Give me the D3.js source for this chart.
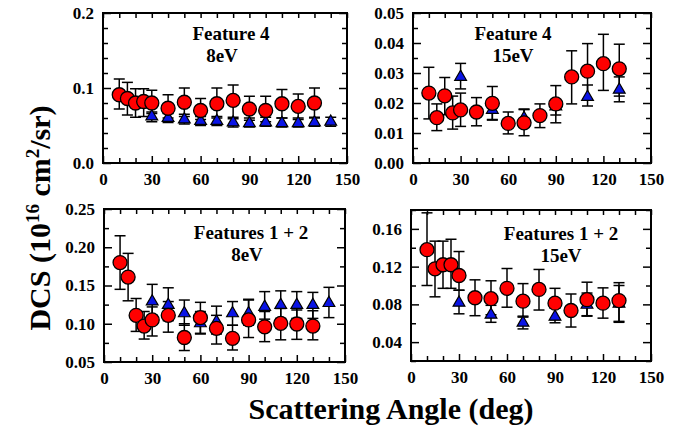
<!DOCTYPE html>
<html>
<head>
<meta charset="utf-8">
<script src="https://cdn.jsdelivr.net/npm/d3@7"></script>
<style>
  body { margin: 0; background: #fff; }
  svg text { font-family: "Liberation Serif", "Times New Roman", serif; font-weight: bold; fill: #000; }
</style>
</head>
<body>
<div id="chart"></div>
<script>
// Scattering angles (deg)
var angRed = [10, 15, 20, 25, 30, 40, 50, 60, 70, 80, 90, 100, 110, 120, 130];
var angBlueA = [30, 40, 50, 60, 70, 80, 90, 100, 110, 120, 130, 140];
var angBlueB = [30, 50, 70, 90, 110, 130];
var angBlueC = [30, 40, 50, 60, 70, 80, 90, 100, 110, 120, 130, 140];
var angBlueD = [30, 50, 70, 90, 110, 130];

// Feature 4, 8eV
var redA = [0.091, 0.086, 0.080, 0.082, 0.080, 0.073, 0.081, 0.070, 0.079, 0.0835, 0.072, 0.070, 0.079, 0.0755, 0.080];
var redAHi = [0.112, 0.1075, 0.099, 0.099, 0.097, 0.091, 0.100, 0.086, 0.100, 0.104, 0.089, 0.089, 0.098, 0.092, 0.100];
var redALo = [0.072, 0.064, 0.061, 0.062, 0.066, 0.060, 0.062, 0.058, 0.060, 0.059, 0.057, 0.055, 0.060, 0.058, 0.060];
var blueA = [0.062, 0.060, 0.058, 0.056, 0.056, 0.054, 0.053, 0.054, 0.053, 0.053, 0.054, 0.055];
var blueAHi = [0.068, 0.066, 0.065, 0.062, 0.062, 0.061, 0.060, 0.061, 0.060, 0.060, 0.061, 0.061];
var blueALo = [0.055, 0.054, 0.052, 0.050, 0.050, 0.048, 0.048, 0.049, 0.048, 0.048, 0.049, 0.049];

// Feature 4, 15eV
var redB = [0.0233, 0.0151, 0.0224, 0.0167, 0.0177, 0.0170, 0.0199, 0.0132, 0.0134, 0.0158, 0.0197, 0.0287, 0.0306, 0.0331, 0.0314];
var redBHi = [0.0319, 0.0197, 0.0285, 0.0223, 0.0233, 0.0218, 0.0255, 0.0170, 0.0180, 0.0197, 0.0258, 0.0374, 0.0398, 0.0429, 0.0396];
var redBLo = [0.0147, 0.0108, 0.0161, 0.0113, 0.0122, 0.0124, 0.0145, 0.0097, 0.0091, 0.0118, 0.0134, 0.0197, 0.0212, 0.0242, 0.0223];
var blueB = [0.0287, 0.0177, 0.0150, 0.0188, 0.0220, 0.0244];
var blueBHi = [0.0332, 0.0190, 0.0178, 0.0206, 0.0260, 0.0287];
var blueBLo = [0.0247, 0.0143, 0.0120, 0.0160, 0.0190, 0.0204];

// Features 1 + 2, 8eV
var redC = [0.180, 0.161, 0.111, 0.097, 0.105, 0.111, 0.082, 0.108, 0.094, 0.081, 0.105, 0.096, 0.1005, 0.0997, 0.097];
var redCHi = [0.215, 0.192, 0.133, 0.116, 0.122, 0.129, 0.100, 0.128, 0.111, 0.098, 0.131, 0.116, 0.120, 0.118, 0.117];
var redCLo = [0.145, 0.130, 0.090, 0.080, 0.084, 0.089, 0.065, 0.0875, 0.0735, 0.0657, 0.082, 0.0766, 0.079, 0.0796, 0.079];
var blueC = [0.129, 0.1245, 0.1136, 0.1005, 0.1027, 0.1136, 0.1136, 0.122, 0.1245, 0.1245, 0.1245, 0.127];
var blueCHi = [0.1515, 0.147, 0.131, 0.116, 0.123, 0.129, 0.132, 0.142, 0.143, 0.142, 0.141, 0.1476];
var blueCLo = [0.111, 0.104, 0.098, 0.0866, 0.0866, 0.098, 0.098, 0.106, 0.107, 0.107, 0.107, 0.108];

// Features 1 + 2, 15eV
var redD = [0.138, 0.1177, 0.122, 0.122, 0.1106, 0.087, 0.086, 0.097, 0.0834, 0.0958, 0.0813, 0.0735, 0.085, 0.0813, 0.084];
var redDHi = [0.177, 0.147, 0.147, 0.149, 0.136, 0.106, 0.105, 0.118, 0.102, 0.117, 0.097, 0.091, 0.1035, 0.0975, 0.103];
var redDLo = [0.100, 0.088, 0.097, 0.097, 0.095, 0.068, 0.069, 0.077, 0.0665, 0.074, 0.0637, 0.056, 0.0675, 0.0654, 0.062];
var blueD = [0.0817, 0.069, 0.0605, 0.067, 0.0795, 0.0806];
var blueDHi = [0.095, 0.079, 0.0675, 0.076, 0.092, 0.100];
var blueDLo = [0.070, 0.061, 0.054, 0.0605, 0.068, 0.061];

// Tick values
var xMajor = [0, 30, 60, 90, 120, 150];
var xMinor = [10, 20, 40, 50, 70, 80, 100, 110, 130, 140];
var yMajorA = [0, 0.1, 0.2];
var yMajorB = [0, 0.01, 0.02, 0.03, 0.04, 0.05];
var yMajorC = [0.05, 0.10, 0.15, 0.20, 0.25];
var yMajorD = [0.04, 0.08, 0.12, 0.16];

var W = 681, H = 429;
var svg = d3.select("#chart").append("svg").attr("width", W).attr("height", H);

function pack(ang, v, hi, lo) {
  return ang.map(function (a, i) { return { a: a, v: v[i], hi: hi[i], lo: lo[i] }; });
}

var panels = [
  { x0: 103, x1: 347, y0: 13, y1: 163, dom: [0, 0.2], minorStep: 0.02, major: yMajorA, fmt: ".1f",
    red: pack(angRed, redA, redAHi, redALo), blue: pack(angBlueA, blueA, blueAHi, blueALo),
    t1: "Feature 4", t1x: 231, t2: "8eV", t2x: 222, ty: 40 },
  { x0: 413, x1: 651, y0: 13, y1: 163, dom: [0, 0.05], minorStep: 0.005, major: yMajorB, fmt: ".2f",
    red: pack(angRed, redB, redBHi, redBLo), blue: pack(angBlueB, blueB, blueBHi, blueBLo),
    t1: "Feature 4", t1x: 513, t2: "15eV", t2x: 513, ty: 40 },
  { x0: 104, x1: 345, y0: 209, y1: 362, dom: [0.05, 0.25], minorStep: 0.025, major: yMajorC, fmt: ".2f",
    red: pack(angRed, redC, redCHi, redCLo), blue: pack(angBlueC, blueC, blueCHi, blueCLo),
    t1: "Features 1 + 2", t1x: 251, t2: "8eV", t2x: 247, ty: 239 },
  { x0: 411, x1: 651, y0: 210, y1: 361, dom: [0.02, 0.18], minorStep: 0.02, major: yMajorD, fmt: ".2f",
    red: pack(angRed, redD, redDHi, redDLo), blue: pack(angBlueD, blueD, blueDHi, blueDLo),
    t1: "Features 1 + 2", t1x: 561, t2: "15eV", t2x: 561, ty: 240 }
];

panels.forEach(function (p) {
  var x = d3.scaleLinear().domain([0, 150]).range([p.x0, p.x1]);
  var y = d3.scaleLinear().domain(p.dom).range([p.y1, p.y0]);
  var yMinor = d3.range(p.dom[0], p.dom[1] + 1e-9, p.minorStep).filter(function (v) {
    return !p.major.some(function (m) { return Math.abs(m - v) < 1e-9; });
  });
  var g = svg.append("g");

  // ticks: inward on all four sides
  function styleAxis(sel) {
    sel.select(".domain").remove();
    sel.selectAll("line").attr("stroke", "#000").attr("stroke-width", 1.5);
    sel.selectAll("text").style("font-size", "17px").attr("fill", "#000");
  }
  g.append("g").attr("transform", "translate(0," + p.y1 + ")")
    .call(d3.axisBottom(x).tickValues(xMajor).tickSize(-7).tickPadding(10).tickFormat(d3.format("d")))
    .call(styleAxis).attr("font-family", null).selectAll("text").attr("dy", "0.71em");
  g.append("g").attr("transform", "translate(0," + p.y1 + ")")
    .call(d3.axisBottom(x).tickValues(xMinor).tickSize(-5).tickFormat("")).call(styleAxis);
  g.append("g").attr("transform", "translate(0," + p.y0 + ")")
    .call(d3.axisTop(x).tickValues(xMajor.concat(xMinor)).tickSize(-5).tickFormat("")).call(styleAxis);
  g.append("g").attr("transform", "translate(" + p.x0 + ",0)")
    .call(d3.axisLeft(y).tickValues(p.major).tickSize(-8).tickPadding(9).tickFormat(d3.format(p.fmt)))
    .call(styleAxis).attr("font-family", null);
  g.append("g").attr("transform", "translate(" + p.x0 + ",0)")
    .call(d3.axisLeft(y).tickValues(yMinor).tickSize(-5).tickFormat("")).call(styleAxis);
  g.append("g").attr("transform", "translate(" + p.x1 + ",0)")
    .call(d3.axisRight(y).tickValues(p.major).tickSize(-8).tickFormat("")).call(styleAxis);
  g.append("g").attr("transform", "translate(" + p.x1 + ",0)")
    .call(d3.axisRight(y).tickValues(yMinor).tickSize(-5).tickFormat("")).call(styleAxis);

  // frame
  g.append("rect")
    .attr("x", p.x0).attr("y", p.y0)
    .attr("width", p.x1 - p.x0).attr("height", p.y1 - p.y0)
    .attr("fill", "none").attr("stroke", "#000").attr("stroke-width", 2);

  // panel titles
  g.append("text").attr("x", p.t1x).attr("y", p.ty).attr("text-anchor", "middle")
    .style("font-size", "19px").text(p.t1);
  g.append("text").attr("x", p.t2x).attr("y", p.ty + 22).attr("text-anchor", "middle")
    .style("font-size", "19px").text(p.t2);

  // error bars
  function errBars(data) {
    var e = g.append("g").attr("stroke", "#000").attr("stroke-width", 1.5);
    e.selectAll("line.v").data(data).enter().append("line")
      .attr("x1", function (d) { return x(d.a); }).attr("x2", function (d) { return x(d.a); })
      .attr("y1", function (d) { return y(d.hi); }).attr("y2", function (d) { return y(d.lo); });
    e.selectAll("line.t").data(data).enter().append("line")
      .attr("x1", function (d) { return x(d.a) - 5.5; }).attr("x2", function (d) { return x(d.a) + 5.5; })
      .attr("y1", function (d) { return y(d.hi); }).attr("y2", function (d) { return y(d.hi); });
    e.selectAll("line.b").data(data).enter().append("line")
      .attr("x1", function (d) { return x(d.a) - 5.5; }).attr("x2", function (d) { return x(d.a) + 5.5; })
      .attr("y1", function (d) { return y(d.lo); }).attr("y2", function (d) { return y(d.lo); });
  }
  errBars(p.blue);
  errBars(p.red);

  // blue triangles under red circles
  g.append("g").selectAll("path").data(p.blue).enter().append("path")
    .attr("d", d3.symbol().type(d3.symbolTriangle).size(60))
    .attr("transform", function (d) { return "translate(" + x(d.a) + "," + y(d.v) + ")"; })
    .attr("fill", "#0a14e6").attr("stroke", "#000").attr("stroke-width", 1.2);

  g.append("g").selectAll("circle").data(p.red).enter().append("circle")
    .attr("cx", function (d) { return x(d.a); })
    .attr("cy", function (d) { return y(d.v); })
    .attr("r", 7)
    .attr("fill", "#ff0000").attr("stroke", "#000").attr("stroke-width", 1.3);
});

// axis titles
svg.append("text")
  .attr("x", 391).attr("y", 419).attr("text-anchor", "middle")
  .style("font-size", "30px").text("Scattering Angle (deg)");

var yl = svg.append("text")
  .attr("transform", "translate(50,218) rotate(-90)")
  .attr("text-anchor", "middle")
  .style("font-size", "30px");
yl.append("tspan").text("DCS (10");
yl.append("tspan").attr("dy", -11).style("font-size", "19px").text("16");
yl.append("tspan").attr("dy", 11).text(" cm");
yl.append("tspan").attr("dy", -11).style("font-size", "19px").text("2");
yl.append("tspan").attr("dy", 11).text("/sr)");
</script>
</body>
</html>
